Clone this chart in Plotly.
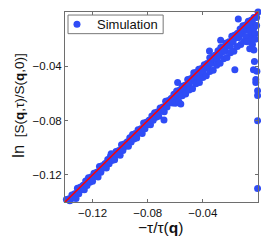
import plotly.graph_objects as go

# main band (near the diagonal)
band_a_x = [-0.139, -0.137, -0.135, -0.133, -0.131, -0.129, -0.127, -0.125, -0.123, -0.121,
            -0.119, -0.117, -0.115, -0.113, -0.111, -0.109, -0.107, -0.105, -0.103, -0.101,
            -0.099, -0.097, -0.095, -0.093, -0.091, -0.089, -0.087, -0.085, -0.083, -0.081,
            -0.079, -0.077, -0.075, -0.073, -0.071, -0.069, -0.067, -0.065, -0.063, -0.061,
            -0.059, -0.057, -0.055, -0.053, -0.051, -0.049, -0.047, -0.045, -0.043, -0.041,
            -0.039, -0.037, -0.035, -0.033, -0.031, -0.029, -0.027, -0.025, -0.023, -0.021,
            -0.019, -0.017, -0.015, -0.013, -0.011, -0.009, -0.007, -0.005]
band_a_y = [-0.1382, -0.1376, -0.1348, -0.1340, -0.1298, -0.1292, -0.1278, -0.1246, -0.1222, -0.1216,
            -0.1188, -0.1180, -0.1138, -0.1132, -0.1118, -0.1086, -0.1062, -0.1056, -0.1028, -0.1020,
            -0.0978, -0.0972, -0.0958, -0.0926, -0.0902, -0.0896, -0.0868, -0.0860, -0.0818, -0.0812,
            -0.0798, -0.0766, -0.0742, -0.0736, -0.0708, -0.0700, -0.0658, -0.0652, -0.0638, -0.0606,
            -0.0582, -0.0576, -0.0548, -0.0540, -0.0498, -0.0492, -0.0478, -0.0446, -0.0422, -0.0416,
            -0.0388, -0.0380, -0.0338, -0.0332, -0.0318, -0.0286, -0.0262, -0.0256, -0.0228, -0.0220,
            -0.0178, -0.0172, -0.0158, -0.0126, -0.0102, -0.0096, -0.0068, -0.0060]

band_m_x = [-0.1385, -0.1365, -0.1345, -0.1325, -0.1305, -0.1285, -0.1265, -0.1245, -0.1225, -0.1205,
            -0.1185, -0.1165, -0.1145, -0.1125, -0.1105, -0.1085, -0.1065, -0.1045, -0.1025, -0.1005,
            -0.0985, -0.0965, -0.0945, -0.0925, -0.0905, -0.0885, -0.0865, -0.0845, -0.0825, -0.0805,
            -0.0785, -0.0765, -0.0745, -0.0725, -0.0705, -0.0685, -0.0665, -0.0645, -0.0625, -0.0605,
            -0.0585, -0.0565, -0.0545, -0.0525, -0.0505, -0.0485, -0.0465, -0.0445, -0.0425, -0.0405,
            -0.0385, -0.0365, -0.0345, -0.0325, -0.0305, -0.0285, -0.0265, -0.0245, -0.0225, -0.0205,
            -0.0185, -0.0165, -0.0145, -0.0125, -0.0105, -0.0085, -0.0065, -0.0045]
band_m_y = [-0.1405, -0.1391, -0.1359, -0.1355, -0.1323, -0.1309, -0.1277, -0.1273, -0.1245, -0.1231,
            -0.1199, -0.1195, -0.1163, -0.1149, -0.1117, -0.1113, -0.1085, -0.1071, -0.1039, -0.1035,
            -0.1003, -0.0989, -0.0957, -0.0953, -0.0925, -0.0911, -0.0879, -0.0875, -0.0843, -0.0829,
            -0.0797, -0.0793, -0.0765, -0.0751, -0.0719, -0.0715, -0.0683, -0.0669, -0.0637, -0.0633,
            -0.0605, -0.0591, -0.0559, -0.0555, -0.0523, -0.0509, -0.0477, -0.0473, -0.0445, -0.0431,
            -0.0399, -0.0395, -0.0363, -0.0349, -0.0317, -0.0313, -0.0285, -0.0271, -0.0239, -0.0235,
            -0.0203, -0.0189, -0.0157, -0.0153, -0.0125, -0.0111, -0.0079, -0.0075]

band_b_x = [-0.138, -0.136, -0.134, -0.132, -0.130, -0.128, -0.126, -0.124, -0.122, -0.120,
            -0.118, -0.116, -0.114, -0.112, -0.110, -0.108, -0.106, -0.104, -0.102, -0.100,
            -0.098, -0.096, -0.094, -0.092, -0.090, -0.088, -0.086, -0.084, -0.082, -0.080,
            -0.078, -0.076, -0.074, -0.072, -0.070, -0.068, -0.066, -0.064, -0.062, -0.060,
            -0.058, -0.056, -0.054, -0.052, -0.050, -0.048, -0.046, -0.044, -0.042, -0.040,
            -0.038, -0.036, -0.034, -0.032, -0.030, -0.028, -0.026, -0.024, -0.022, -0.020,
            -0.018, -0.016, -0.014, -0.012, -0.010, -0.008, -0.006]
band_b_y = [-0.1415, -0.1408, -0.1370, -0.1375, -0.1340, -0.1308, -0.1310, -0.1278, -0.1255, -0.1248,
            -0.1210, -0.1215, -0.1180, -0.1148, -0.1150, -0.1118, -0.1095, -0.1088, -0.1050, -0.1055,
            -0.1020, -0.0988, -0.0990, -0.0958, -0.0935, -0.0928, -0.0890, -0.0895, -0.0860, -0.0828,
            -0.0830, -0.0798, -0.0775, -0.0768, -0.0730, -0.0735, -0.0700, -0.0668, -0.0670, -0.0638,
            -0.0615, -0.0608, -0.0570, -0.0575, -0.0540, -0.0508, -0.0510, -0.0478, -0.0455, -0.0448,
            -0.0410, -0.0415, -0.0380, -0.0348, -0.0350, -0.0318, -0.0295, -0.0288, -0.0250, -0.0255,
            -0.0220, -0.0188, -0.0190, -0.0158, -0.0135, -0.0128, -0.0090]

band_c_x = [-0.060, -0.0575, -0.055, -0.0525, -0.050, -0.0475, -0.045, -0.0425, -0.040, -0.0375,
            -0.035, -0.0325, -0.030, -0.0275, -0.025, -0.0225, -0.020, -0.0175, -0.015, -0.0125,
            -0.010, -0.0075, -0.005]
band_c_y = [-0.0672, -0.0660, -0.0618, -0.0605, -0.0575, -0.0565, -0.0528, -0.0520, -0.0482, -0.0470,
            -0.0438, -0.0430, -0.0392, -0.0378, -0.0345, -0.0335, -0.0300, -0.0290, -0.0255, -0.0240,
            -0.0215, -0.0195, -0.0175]

cluster_x = [-0.007, -0.006, -0.004, -0.003, -0.005, -0.002, -0.004, -0.001, -0.002, -0.006,
             -0.003, -0.001, -0.003, -0.009, -0.008]
cluster_y = [-0.010, -0.014, -0.008, -0.012, -0.020, -0.016, -0.024, -0.010, -0.020, -0.027,
             -0.028, -0.004, -0.004, -0.018, -0.022]

outlier_x = [0.0, -0.0143, -0.0352, -0.0168, -0.0033, -0.0026, -0.0016, -0.0003, -0.0003, -0.0003,
             -0.0003, -0.0016, -0.0008, -0.0583, -0.056, -0.0682, -0.1065, -0.1403, -0.0466, -0.0271]
outlier_y = [0.0, -0.0052, -0.0288, -0.0425, -0.0425, -0.0364, -0.0497, -0.058, -0.0616, -0.0802,
             -0.130, -0.052, -0.0436, -0.052, -0.0677, -0.0796, -0.1044, -0.137, -0.0448, -0.0208]

sim_x = band_a_x + band_m_x + band_b_x + band_c_x + cluster_x + outlier_x
sim_y = band_a_y + band_m_y + band_b_y + band_c_y + cluster_y + outlier_y

line_x = [-0.14, 0.0]
line_y = [-0.14, 0.0]

tick_vals = [-0.12, -0.08, -0.04]
tick_text = ["\u22120.12", "\u22120.08", "\u22120.04"]

FONT = "Liberation Sans, Arial, Helvetica, sans-serif"
BLUE = "#2f4cf6"
AXC = "#6e6e6e"

fig = go.Figure()
fig.add_trace(go.Scatter(x=sim_x, y=sim_y, mode="markers", name="Simulation",
                         marker=dict(color=BLUE, size=7, line=dict(width=0)),
                         cliponaxis=False))
fig.add_trace(go.Scatter(x=line_x, y=line_y, mode="lines", showlegend=False,
                         line=dict(color="#ff0000", width=1.6)))

axis_common = dict(showline=True, linecolor=AXC, linewidth=1, mirror="ticks",
                   ticks="inside", ticklen=3, tickcolor=AXC, showgrid=False,
                   zeroline=False, tickfont=dict(family=FONT, size=11.5, color="#111"),
                   tickvals=tick_vals, ticktext=tick_text)

fig.update_layout(
    width=261, height=232,
    margin=dict(l=57, r=11.3, t=1, b=38.3),
    paper_bgcolor="white", plot_bgcolor="white",
    font=dict(family=FONT, color="#111"),
    xaxis=dict(range=[-0.14, 0.0], **axis_common),
    yaxis=dict(range=[-0.14, 0.0], **axis_common),
    legend=dict(x=-0.0415, y=0.935, xanchor="left", yanchor="middle",
                bgcolor="rgba(0,0,0,0)", borderwidth=0,
                font=dict(family=FONT, size=13), itemwidth=30),
    showlegend=True,
    shapes=[dict(type="rect", xref="paper", yref="paper", x0=0.0156, x1=0.5086,
                 y0=0.886, y1=0.984, line=dict(color="#777", width=1),
                 fillcolor="white", layer="above")],
    annotations=[
        dict(text="\u2212\u03c4/\u03c4(<b>q</b>)", xref="paper", yref="paper",
             x=0.4956, y=-0.1365, xanchor="center", yanchor="middle", showarrow=False,
             font=dict(family=FONT, size=15.5, color="#111")),
        dict(text="<span style='font-size:16.5px'>ln</span>  [S(<b>q</b>,\u03c4)/S(<b>q</b>,0)]",
             xref="paper", yref="paper", x=0.0, xshift=-47, y=0.507, xanchor="center",
             yanchor="middle", textangle=-90, showarrow=False,
             font=dict(family=FONT, size=13.5, color="#111")),
    ],
)

fig.write_html("out.html")
